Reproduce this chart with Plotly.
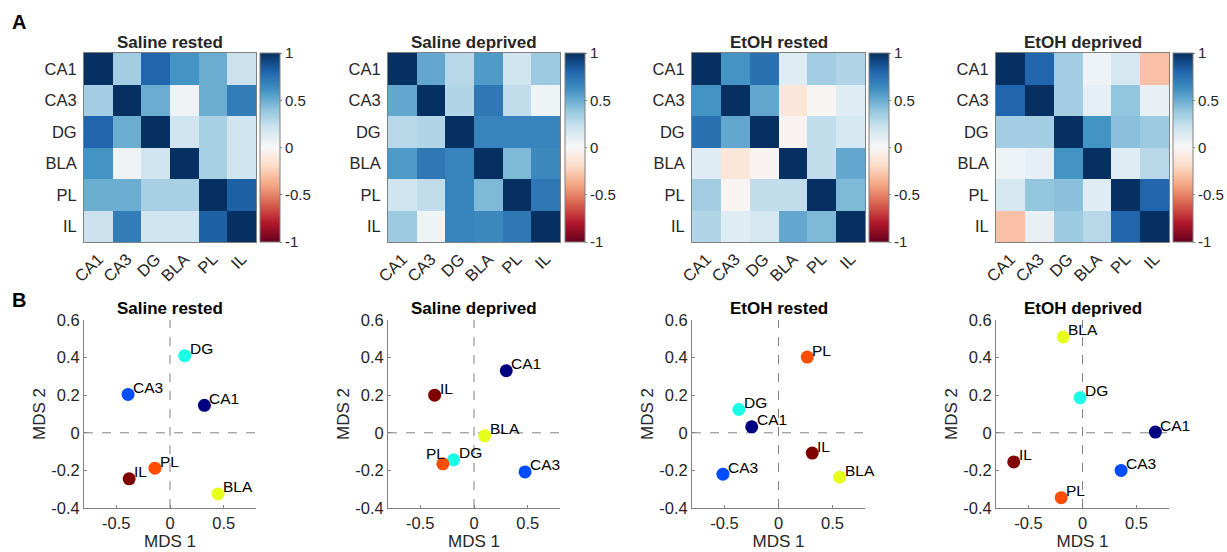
import plotly.graph_objects as go

# ---------------- data ----------------
regions = ["CA1", "CA3", "DG", "BLA", "PL", "IL"]
conditions = ["Saline rested", "Saline deprived", "EtOH rested", "EtOH deprived"]

corr_saline_rested = [
    [1.00, 0.35, 0.80, 0.60, 0.50, 0.22],
    [0.35, 1.00, 0.50, 0.04, 0.50, 0.70],
    [0.80, 0.50, 1.00, 0.20, 0.33, 0.20],
    [0.60, 0.04, 0.20, 1.00, 0.33, 0.20],
    [0.50, 0.50, 0.33, 0.33, 1.00, 0.82],
    [0.22, 0.70, 0.20, 0.20, 0.82, 1.00],
]
corr_saline_deprived = [
    [1.00, 0.52, 0.28, 0.57, 0.20, 0.37],
    [0.52, 1.00, 0.30, 0.72, 0.25, 0.05],
    [0.28, 0.30, 1.00, 0.67, 0.67, 0.67],
    [0.57, 0.72, 0.67, 1.00, 0.45, 0.65],
    [0.20, 0.25, 0.67, 0.45, 1.00, 0.72],
    [0.37, 0.05, 0.67, 0.65, 0.72, 1.00],
]
corr_etoh_rested = [
    [1.00, 0.60, 0.75, 0.12, 0.35, 0.30],
    [0.60, 1.00, 0.52, -0.12, -0.02, 0.12],
    [0.75, 0.52, 1.00, -0.03, 0.25, 0.18],
    [0.12, -0.12, -0.03, 1.00, 0.25, 0.52],
    [0.35, -0.02, 0.25, 0.25, 1.00, 0.45],
    [0.30, 0.12, 0.18, 0.52, 0.45, 1.00],
]
corr_etoh_deprived = [
    [1.00, 0.80, 0.35, 0.06, 0.18, -0.30],
    [0.80, 1.00, 0.35, 0.10, 0.40, 0.08],
    [0.35, 0.35, 1.00, 0.60, 0.42, 0.37],
    [0.06, 0.10, 0.60, 1.00, 0.12, 0.28],
    [0.18, 0.40, 0.42, 0.12, 1.00, 0.80],
    [-0.30, 0.08, 0.37, 0.28, 0.80, 1.00],
]

# MDS coordinates, ordered as `regions`
mds1_saline_rested = [0.32, -0.39, 0.137, 0.447, -0.14, -0.38]
mds2_saline_rested = [0.146, 0.204, 0.41, -0.325, -0.188, -0.245]
mds1_saline_deprived = [0.30, 0.475, -0.19, 0.10, -0.29, -0.366]
mds2_saline_deprived = [0.33, -0.208, -0.144, -0.016, -0.165, 0.20]
mds1_etoh_rested = [-0.248, -0.514, -0.367, 0.566, 0.266, 0.312]
mds2_etoh_rested = [0.032, -0.22, 0.124, -0.236, 0.403, -0.108]
mds1_etoh_deprived = [0.674, 0.357, -0.022, -0.179, -0.197, -0.636]
mds2_etoh_deprived = [0.004, -0.20, 0.187, 0.51, -0.345, -0.155]

region_colors = ["#000080", "#004CFF", "#1AFFE6", "#E6FF1A", "#FF4C00", "#800000"]

cbar_ticks = [-1, -0.5, 0, 0.5, 1]
cbar_ticktext = ["-1", "-0.5", "0", "0.5", "1"]
mds1_ticks = [-0.5, 0, 0.5]
mds1_ticktext = ["-0.5", "0", "0.5"]
mds2_ticks = [-0.4, -0.2, 0, 0.2, 0.4, 0.6]
mds2_ticktext = ["-0.4", "-0.2", "0", "0.2", "0.4", "0.6"]

mats = [corr_saline_rested, corr_saline_deprived, corr_etoh_rested, corr_etoh_deprived]
mds1 = [mds1_saline_rested, mds1_saline_deprived, mds1_etoh_rested, mds1_etoh_deprived]
mds2 = [mds2_saline_rested, mds2_saline_deprived, mds2_etoh_rested, mds2_etoh_deprived]

# ---------------- styling ----------------
rdbu_colors = ['rgb(103,0,31)', 'rgb(178,24,43)', 'rgb(214,96,77)', 'rgb(244,165,130)',
               'rgb(253,219,199)', 'rgb(247,247,247)', 'rgb(209,229,240)',
               'rgb(146,197,222)', 'rgb(67,147,195)', 'rgb(33,102,172)', 'rgb(5,48,97)']
rdbu = [[i / 10, c] for i, c in enumerate(rdbu_colors)]

# label placement exceptions (panel index, region) -> (xanchor, xshift, yshift)
label_style_override = {(1, "PL"): ("right", 4, 10)}

W, H = 1227, 552
FONT = "Liberation Sans, Arial, Helvetica, sans-serif"
TXT = "#262626"
AXC = "#808080"
TICK_FS = 16.5
CB_FS = 15
TITLE_FS = 17


def fx(p):
    return p / W


def fy(p):
    return 1 - p / H


hm_left = [84, 388, 692, 996]
hm_right = [256, 560, 865, 1169]
cb_left = [260, 565, 869, 1173]
hm_top, hm_bot = 53, 242
sc_top, sc_bot = 320, 508

fig = go.Figure()
layout = {}
annotations = []
shapes = []

for i in range(4):
    k = i + 1
    ks = i + 5
    xa = "x" if k == 1 else f"x{k}"
    ya = "y" if k == 1 else f"y{k}"
    xs, ys = f"x{ks}", f"y{ks}"

    fig.add_trace(go.Heatmap(
        z=mats[i], x=regions, y=regions, xaxis=xa, yaxis=ya,
        zmin=-1, zmax=1, colorscale=rdbu, xgap=0, ygap=0,
        colorbar=dict(
            x=fx(cb_left[i]), xanchor="left", xref="paper",
            y=fy((hm_top + hm_bot) / 2), yanchor="middle",
            len=(hm_bot - hm_top) / H, lenmode="fraction",
            thickness=20, thicknessmode="pixels",
            outlinecolor=AXC, outlinewidth=1,
            tickvals=cbar_ticks, ticktext=cbar_ticktext,
            ticks="outside", ticklen=2, tickcolor=AXC,
            tickfont=dict(size=CB_FS, color=TXT, family=FONT),
            xpad=0, ypad=0,
        ),
        showscale=True,
    ))

    fig.add_trace(go.Scatter(
        x=mds1[i], y=mds2[i], xaxis=xs, yaxis=ys,
        mode="markers",
        marker=dict(size=13, color=region_colors, line=dict(width=0)),
        showlegend=False, cliponaxis=False,
    ))
    for r, xv, yv in zip(regions, mds1[i], mds2[i]):
        xanc, xsh, ysh = label_style_override.get((i, r), ("left", 3, 7))
        annotations.append(dict(text=r, x=xv, y=yv, xref=xs, yref=ys, xanchor=xanc,
                                yanchor="middle", xshift=xsh, yshift=ysh, showarrow=False,
                                font=dict(size=15.5, color="#000000", family=FONT)))

    dom_x = [fx(hm_left[i]), fx(hm_right[i])]
    layout["xaxis" if k == 1 else f"xaxis{k}"] = dict(
        domain=dom_x, anchor=ya, showline=True, mirror=True, linecolor=AXC, linewidth=1,
        tickangle=-45, tickfont=dict(size=TICK_FS, color=TXT, family=FONT),
        showgrid=False, zeroline=False, ticks="", fixedrange=True,
    )
    layout["yaxis" if k == 1 else f"yaxis{k}"] = dict(
        domain=[fy(hm_bot), fy(hm_top)], anchor=xa, showline=True, mirror=True,
        linecolor=AXC, linewidth=1, autorange="reversed",
        tickfont=dict(size=TICK_FS, color=TXT, family=FONT),
        showgrid=False, zeroline=False, ticks="", ticklabelstandoff=3,
    )
    layout[f"xaxis{ks}"] = dict(
        domain=dom_x, anchor=ys, range=[-0.8, 0.8], showline=True, linecolor=AXC,
        linewidth=1, showgrid=False, zeroline=False,
        tickvals=mds1_ticks, ticktext=mds1_ticktext, ticks="inside", ticklen=3,
        tickcolor=AXC, tickfont=dict(size=TICK_FS, color=TXT, family=FONT),
        title=dict(text="MDS 1", font=dict(size=TITLE_FS, color=TXT, family=FONT), standoff=4),
    )
    layout[f"yaxis{ks}"] = dict(
        domain=[fy(sc_bot), fy(sc_top)], anchor=xs, range=[-0.4, 0.6], showline=True,
        linecolor=AXC, linewidth=1, showgrid=False, zeroline=False,
        tickvals=mds2_ticks, ticktext=mds2_ticktext, ticks="inside", ticklen=3,
        tickcolor=AXC, tickfont=dict(size=TICK_FS, color=TXT, family=FONT),
        title=dict(text="MDS 2", font=dict(size=TITLE_FS, color=TXT, family=FONT), standoff=1),
    )

    cx = fx((hm_left[i] + hm_right[i]) / 2)
    annotations.append(dict(text=f"<b>{conditions[i]}</b>", x=cx, y=fy(42), xref="paper",
                            yref="paper", xanchor="center", yanchor="middle", showarrow=False,
                            font=dict(size=TITLE_FS, color=TXT, family=FONT)))
    annotations.append(dict(text=f"<b>{conditions[i]}</b>", x=cx, y=fy(308), xref="paper",
                            yref="paper", xanchor="center", yanchor="middle", showarrow=False,
                            font=dict(size=TITLE_FS, color="#000000", family=FONT)))

    shapes.append(dict(type="line", xref=xs, yref=ys, x0=0, x1=0, y0=-0.4, y1=0.6,
                       line=dict(color=AXC, width=1, dash="dash"), layer="below"))
    shapes.append(dict(type="line", xref=xs, yref=ys, x0=-0.8, x1=0.8, y0=0, y1=0,
                       line=dict(color=AXC, width=1, dash="dash"), layer="below"))

annotations.append(dict(text="<b>A</b>", x=fx(10), y=fy(22), xref="paper", yref="paper",
                        xanchor="left", yanchor="middle", showarrow=False,
                        font=dict(size=20, color="#000000", family=FONT)))
annotations.append(dict(text="<b>B</b>", x=fx(10), y=fy(300), xref="paper", yref="paper",
                        xanchor="left", yanchor="middle", showarrow=False,
                        font=dict(size=20, color="#000000", family=FONT)))

fig.update_layout(
    width=W, height=H, margin=dict(l=0, r=0, t=0, b=0, autoexpand=False),
    paper_bgcolor="white", plot_bgcolor="white",
    font=dict(family=FONT, color=TXT, size=14),
    annotations=annotations, shapes=shapes, showlegend=False,
    **layout,
)

fig.write_html("out.html", config={"displayModeBar": False},
               post_script="document.body.style.margin='0';document.body.style.overflow='hidden';")
